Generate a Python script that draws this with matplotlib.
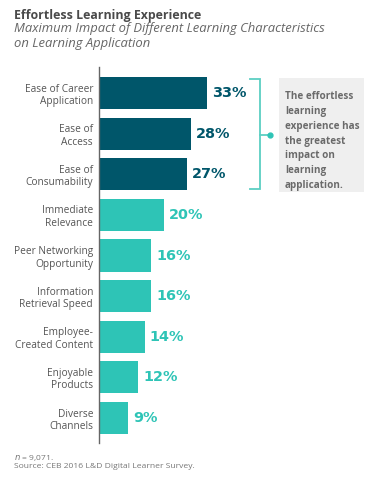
import matplotlib.pyplot as plt
from matplotlib.patches import Rectangle

categories = ['Ease of Career\nApplication', 'Ease of\nAccess', 'Ease of\nConsumability',
              'Immediate\nRelevance', 'Peer Networking\nOpportunity', 'Information\nRetrieval Speed',
              'Employee-\nCreated Content', 'Enjoyable\nProducts', 'Diverse\nChannels']
values = [33, 28, 27, 20, 16, 16, 14, 12, 9]
highlight = [True, True, True, False, False, False, False, False, False]

DARK = '#00566a'
LIGHT = '#2ec4b6'
GREY = '#555555'

W, H = 368, 479
fig = plt.figure(figsize=(W/100, H/100), dpi=100)

# main bar axes, placed in pixel terms
x0, ytop, ybot = 99, 67, 443
ax = fig.add_axes([x0/W, 1-ybot/H, (W-x0)/W, (ybot-ytop)/H])
colors = [DARK if h else LIGHT for h in highlight]
ypos = list(range(len(values)))
ax.barh(ypos, values, height=0.79, color=colors)
for y, v, c in zip(ypos, values, colors):
    ax.annotate('%d%%' % v, (v, y), xytext=(3.5, 0), textcoords='offset points',
                va='center', ha='left', fontsize=10.4, fontweight='heavy', color=c)

ax.set_xlim(0, (W-x0)/3.27)
ax.set_ylim(len(values)-1+0.615, -0.64)
ax.set_yticks(ypos)
ax.set_yticklabels(categories, fontsize=7.3, color=GREY, family='Open Sans', linespacing=1.2)
ax.tick_params(axis='y', length=0, pad=4.3)
ax.set_xticks([])
for s in ['top', 'right', 'bottom']:
    ax.spines[s].set_visible(False)
ax.spines['left'].set_color('#666666')
ax.spines['left'].set_linewidth(1.0)
ax.patch.set_alpha(0)

# overlay in pixel coordinates for titles and callout
ov = fig.add_axes([0, 0, 1, 1], zorder=-1)
ov.set_xlim(0, W)
ov.set_ylim(H, 0)
ov.axis('off')

ov.text(14, 9, 'Effortless Learning Experience', fontsize=8.9, fontweight='bold',
        color='#4a4a4a', family='Open Sans', va='top')
ov.text(14, 22, 'Maximum Impact of Different Learning Characteristics\non Learning Application',
        fontsize=9.4, style='italic', color='#666666', family='Open Sans', va='top',
        linespacing=1.15)

# bracket
bc = '#5ccfc3'
ov.plot([250, 260, 260, 250], [79, 79, 189, 189], color=bc, lw=1.3, solid_joinstyle='miter')
ov.plot([260, 270], [135, 135], color=bc, lw=1.3)
ov.plot([270], [135], 'o', color=LIGHT, ms=3.5)

ov.add_patch(Rectangle((279, 78), 85, 114, color='#efefef', lw=0))
ov.text(285, 91, 'The effortless\nlearning\nexperience has\nthe greatest\nimpact on\nlearning\napplication.',
        fontsize=7.1, fontweight='bold', color='#6a6a6a', family='Open Sans', va='top',
        linespacing=1.48)

ov.text(14, 458, '$n$ = 9,071.', fontsize=6.1, color='#777777', family='Open Sans', va='center')
ov.text(14, 467, 'Source: CEB 2016 L&D Digital Learner Survey.', fontsize=6.1, color='#777777',
        family='Open Sans', va='center')

fig.savefig('out.png', dpi=100)
